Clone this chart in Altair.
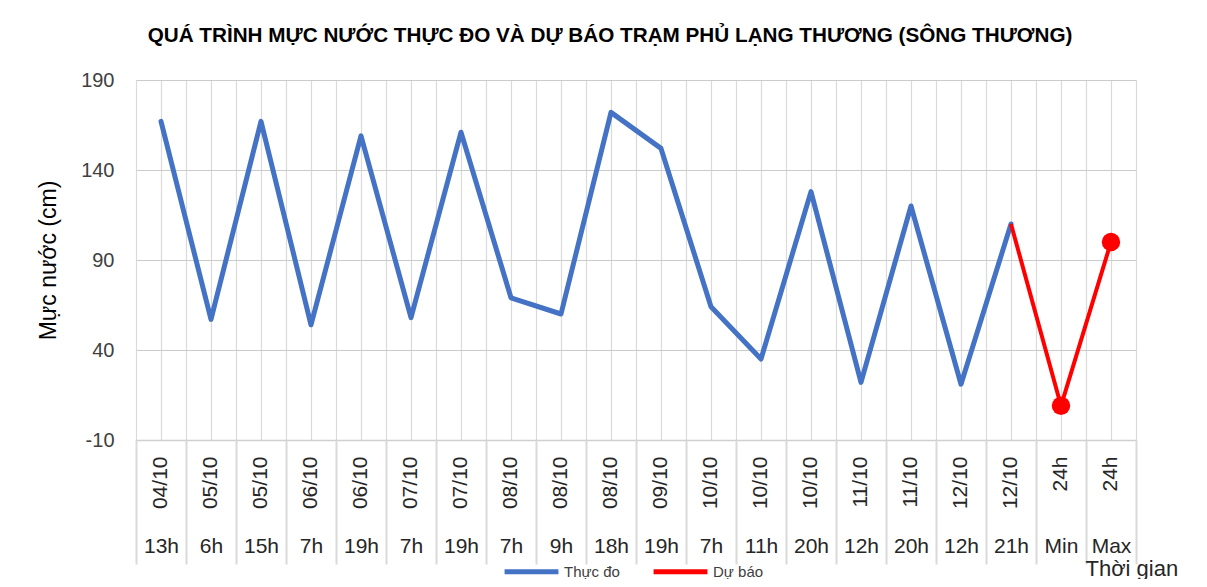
import altair as alt
import pandas as pd

dates = ["04/10", "05/10", "05/10", "06/10", "06/10", "07/10", "07/10", "08/10", "08/10", "08/10",
         "09/10", "10/10", "10/10", "10/10", "11/10", "11/10", "12/10", "12/10", "24h", "24h"]
hours = ["13h", "6h", "15h", "7h", "19h", "7h", "19h", "7h", "9h", "18h",
         "19h", "7h", "11h", "20h", "12h", "20h", "12h", "21h", "Min", "Max"]
observed = [167, 57, 167, 54, 159, 58, 161, 69, 60, 172,
            152, 64, 35, 128, 22, 120, 21, 110]
forecast_start = 17
forecast = [110, 9, 100]

series_names = ["Thực đo", "Dự báo"]
series_colors = ["#4472C4", "#FF0000"]

keys = [f"{d}|{h}" for d, h in zip(dates, hours)]

rows = []
for i, v in enumerate(observed):
    rows.append({"key": keys[i], "value": v, "series": series_names[0], "marker": False})
for j, v in enumerate(forecast):
    i = forecast_start + j
    rows.append({"key": keys[i], "value": v, "series": series_names[1], "marker": j > 0})
df = pd.DataFrame(rows)

FONT = "Liberation Sans"
GRID_V = "#DADADA"

xscale = alt.Scale(type="band", paddingInner=0, paddingOuter=0, domain=keys)
yscale = alt.Scale(domain=[-10, 190], nice=False, zero=False)
color = alt.Color("series:N", scale=alt.Scale(domain=series_names, range=series_colors),
                  legend=alt.Legend(title=None, orient="none", direction="horizontal",
                                    legendX=366, legendY=462, symbolType="stroke",
                                    symbolStrokeWidth=5, symbolSize=2900, labelFontSize=15,
                                    labelFont=FONT, labelColor="#404040", columnPadding=23,
                                    labelOffset=3))

yaxis = alt.Axis(values=[-10, 40, 90, 140, 190], labelExpr="'' + datum.value",
                 title="Mực nước (cm)", titleFontSize=23,
                 titleFont=FONT, titleFontWeight="normal", titleColor="#000000", titlePadding=20,
                 labelFontSize=20, labelFont=FONT, labelColor="#404040", labelPadding=22,
                 grid=True, gridColor="#CBCBCB", gridWidth=1.2, ticks=False, domain=False)

date_axis = alt.Axis(orient="bottom", labelExpr="split(datum.value, '|')[0]", labelAngle=270,
                     labelAlign="right", labelBaseline="middle", labelPadding=16,
                     labelFontSize=21, labelFont=FONT, labelColor="#262626",
                     ticks=False, grid=True, gridColor=GRID_V, gridWidth=1.2,
                     tickBand="center", domain=True, domainColor="#D0D0D0", domainWidth=1.5,
                     title=None)

hour_axis = alt.Axis(orient="bottom", labelExpr="split(datum.value, '|')[1]", labelAngle=0,
                     labelAlign="center", labelBaseline="middle", labelPadding=-18,
                     labelFontSize=21, labelFont=FONT, labelColor="#262626",
                     ticks=True, tickSize=124, tickColor="#D9D9D9", tickWidth=2,
                     tickBand="extent", grid=True, gridColor=GRID_V, gridWidth=1.2,
                     domain=False, title="Thời gian", titleFontSize=22, titleFont=FONT,
                     titleFontWeight="normal", titleColor="#262626", titleX=949, titleY=128,
                     titleAlign="left", titleBaseline="middle", titleAngle=0)

obs_line = alt.Chart(df).transform_filter(alt.datum.series == series_names[0]).mark_line(
    strokeWidth=5, strokeJoin="round", strokeCap="round").encode(
    x=alt.X("key:N", scale=xscale, sort=keys, axis=date_axis, bandPosition=0.5),
    y=alt.Y("value:Q", scale=yscale, axis=yaxis),
    color=color,
)

fc_line = alt.Chart(df).transform_filter(alt.datum.series == series_names[1]).mark_line(
    strokeWidth=4, strokeJoin="round").encode(
    x=alt.X("key:N", scale=xscale, sort=keys, axis=hour_axis, bandPosition=0.5),
    y=alt.Y("value:Q", scale=yscale, axis=yaxis),
    color=color,
)

fc_pts = alt.Chart(df).transform_filter(alt.datum.marker == True).mark_circle(
    size=340, opacity=1).encode(
    x=alt.X("key:N", scale=xscale, sort=keys, axis=None, bandPosition=0.5),
    y=alt.Y("value:Q", scale=yscale, axis=yaxis),
    color=color,
)

chart = alt.layer(obs_line, fc_line, fc_pts).resolve_scale(x="shared").resolve_axis(
    x="independent").properties(
    width=1000, height=360,
    title=alt.TitleParams(
        "QUÁ TRÌNH MỰC NƯỚC THỰC ĐO VÀ DỰ BÁO TRẠM PHỦ LẠNG THƯƠNG (SÔNG THƯƠNG)",
        font=FONT, fontSize=20.7, fontWeight="bold", color="#000000", anchor="middle",
        dx=-26, offset=23),
    autosize=alt.AutoSizeParams(type="none"),
    padding={"left": 128, "top": 72, "right": 63, "bottom": 139},
).configure_view(stroke=None).configure(background="white")

chart.save("out.html", embed_options={"renderer": "svg", "actions": False})
